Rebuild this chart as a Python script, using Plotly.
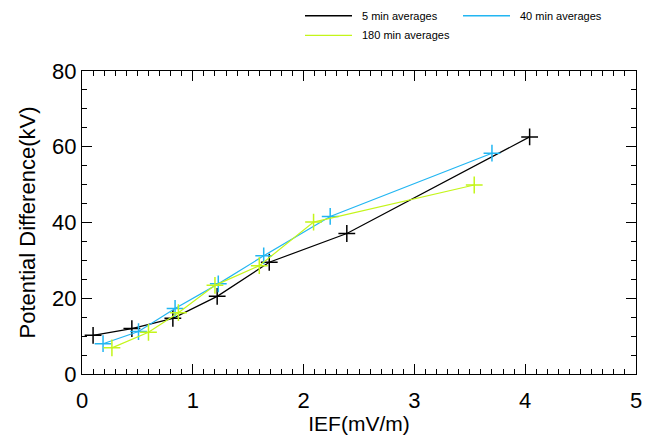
import plotly.graph_objects as go

# Data
x_5min = [0.10, 0.45, 0.82, 1.22, 1.69, 2.39, 4.04]
y_5min = [10.2, 12.0, 14.7, 20.5, 29.5, 37.1, 62.6]

x_40min = [0.19, 0.51, 0.84, 1.23, 1.64, 2.24, 3.70]
y_40min = [8.0, 11.2, 17.3, 23.8, 31.2, 41.6, 58.3]

x_180min = [0.27, 0.60, 0.87, 1.20, 1.60, 2.09, 3.54]
y_180min = [6.9, 11.0, 16.2, 23.4, 28.6, 40.1, 49.9]

series_names = ["5 min averages", "40 min averages", "180 min averages"]
colors = ["#000000", "#22B6F2", "#C4F51A"]

x_ticks = [0, 1, 2, 3, 4, 5]
y_ticks = [0, 20, 40, 60, 80]

FONT = "Liberation Sans, Arial, Helvetica, sans-serif"

fig = go.Figure()
for xs, ys, name, c in zip([x_5min, x_40min, x_180min],
                           [y_5min, y_40min, y_180min],
                           series_names, colors):
    fig.add_trace(go.Scatter(
        x=xs, y=ys, mode="lines+markers", name=name,
        line=dict(color=c, width=1.2),
        marker=dict(symbol="cross-thin", size=12, line=dict(color=c, width=1.5)),
        showlegend=False,
    ))

axis_common = dict(
    showgrid=False, zeroline=False, showline=True, linecolor="black", linewidth=1.2,
    mirror="allticks", ticks="inside", ticklen=10, tickwidth=1, tickcolor="black",
    tickfont=dict(family=FONT, size=22, color="black"),
)

fig.update_xaxes(
    range=[0, 5], tickvals=x_ticks, ticktext=[str(v) for v in x_ticks],
    minor=dict(dtick=0.1, ticks="inside", ticklen=5, tickcolor="black", tickwidth=1),
    title=dict(text="IEF(mV/m)", font=dict(family=FONT, size=21, color="black"), standoff=2),
    ticklabelstandoff=6,
    **axis_common,
)
fig.update_yaxes(
    range=[0, 80], tickvals=y_ticks, ticktext=[str(v) for v in y_ticks],
    minor=dict(dtick=5, ticks="inside", ticklen=5, tickcolor="black", tickwidth=1),
    title=dict(text="Potential Difference(kV)", font=dict(family=FONT, size=22, color="black"), standoff=10),
    ticklabelstandoff=0,
    **axis_common,
)

# Manual legend (line samples + labels) in paper coordinates
L, R, T, B = 82, 636, 71, 378
W, H = R - L, B - T
def px(xp): return (xp - L) / W
def py(yp): return (B - yp) / H

legend_pos = [(305, 15), (463, 15), (305, 35)]
for (lx, ly), name, c in zip(legend_pos, series_names, colors):
    fig.add_shape(type="line", xref="paper", yref="paper",
                  x0=px(lx), x1=px(lx + 47), y0=py(ly), y1=py(ly),
                  line=dict(color=c, width=1.3))
    fig.add_annotation(xref="paper", yref="paper", x=px(lx + 55), y=py(ly),
                       text=name, showarrow=False, xanchor="left", yanchor="middle",
                       font=dict(family=FONT, size=11, color="black"))

fig.update_layout(
    width=654, height=441,
    margin=dict(l=L, r=654 - R, t=T, b=441 - B),
    paper_bgcolor="white", plot_bgcolor="white",
    font=dict(family=FONT, color="black"),
)

fig.write_html("out.html")
